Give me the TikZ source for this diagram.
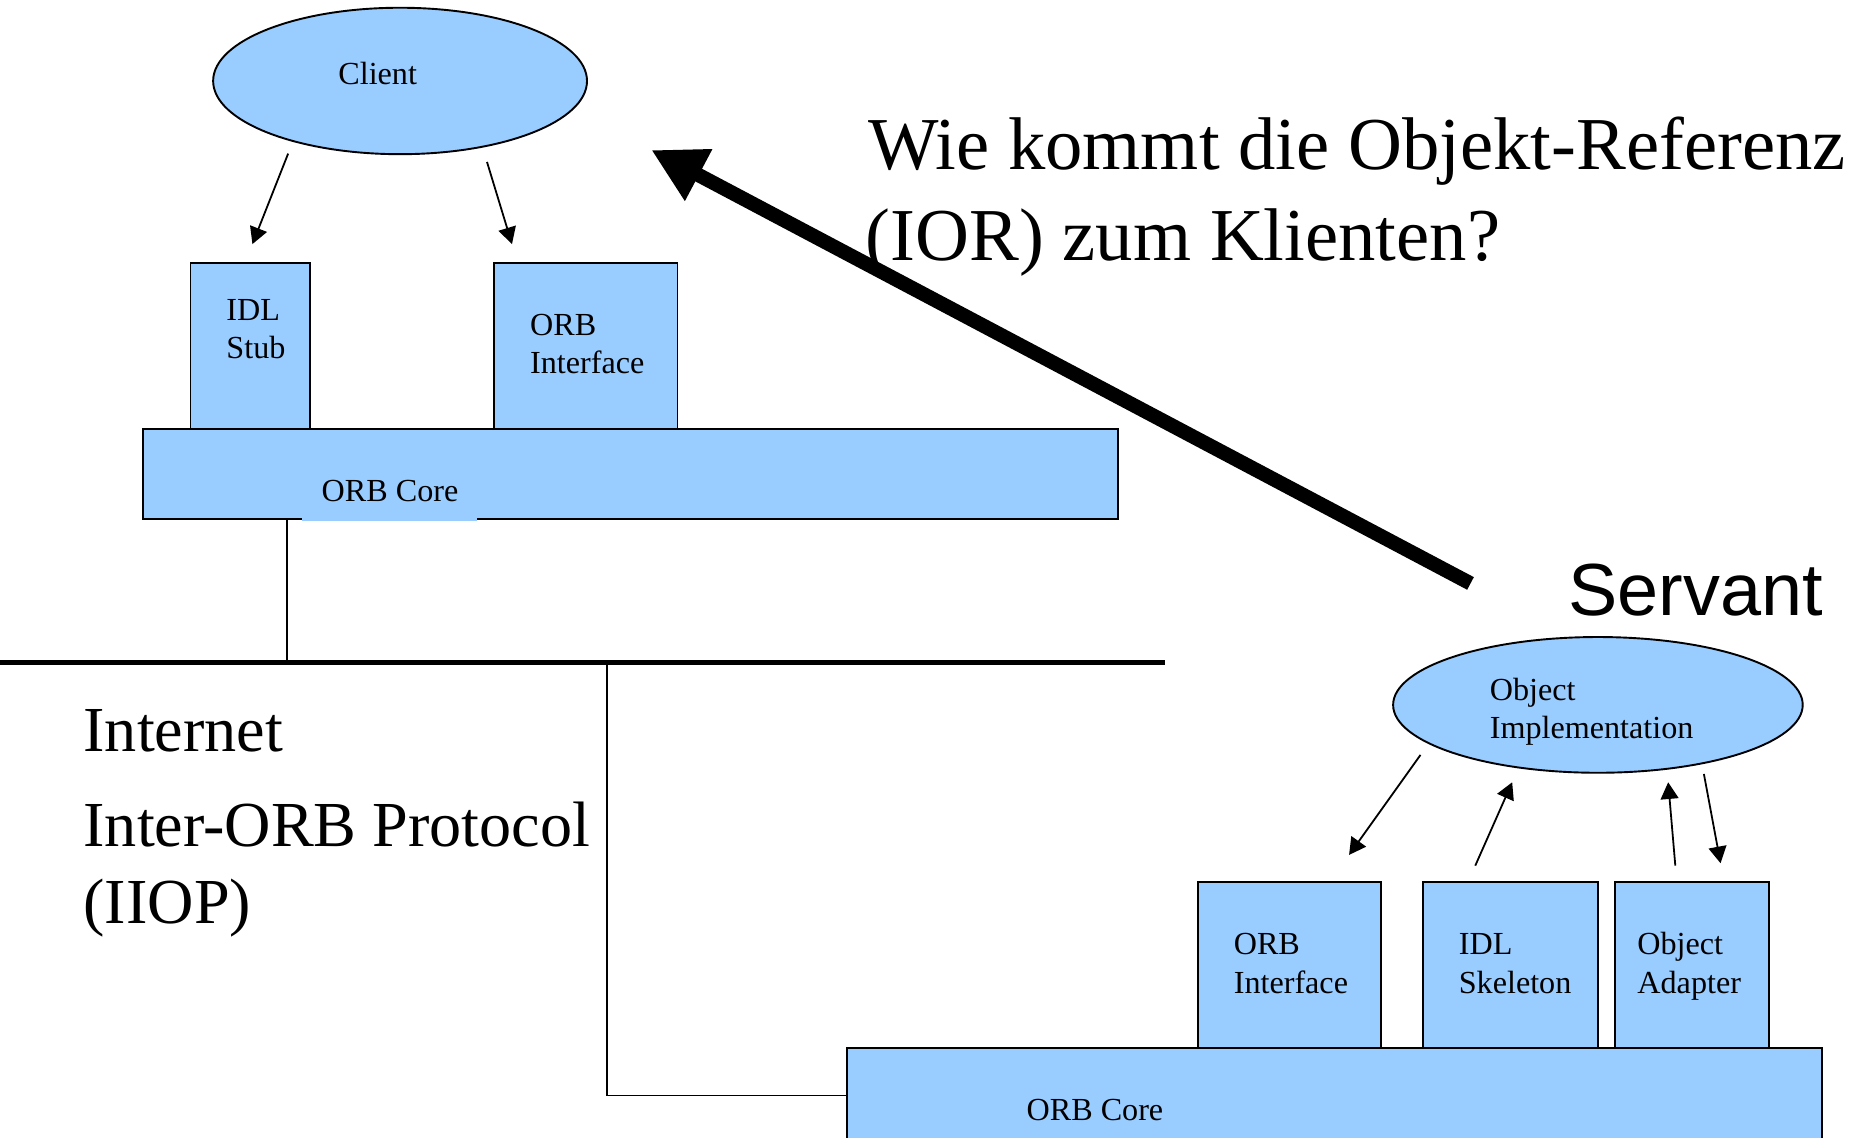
\documentclass[tikz,border=0pt]{standalone}
\usepackage{fontspec}
\setmainfont{Liberation Serif}
\newfontfamily\servfont{Liberation Sans}
\usetikzlibrary{arrows.meta,shapes.geometric}
\definecolor{boxblue}{HTML}{99CCFF}
\begin{document}
\begin{tikzpicture}[x=1pt,y=-1pt,
  box/.style={draw=black, fill=boxblue, line width=1.6pt},
  oval/.style={ellipse, draw=black, fill=boxblue, line width=1.6pt, inner sep=0pt},
  lbl/.style={anchor=base west, inner sep=0pt, font=\fontsize{27}{32}\selectfont, align=left},
  big/.style={anchor=base west, inner sep=0pt, font=\fontsize{62.7}{74}\selectfont},
  net/.style={anchor=base west, inner sep=0pt, font=\fontsize{53.9}{64}\selectfont},
  conn/.style={line width=1.5pt, -{Triangle[length=14pt,width=15pt]}},
  wire/.style={line width=1.5pt},
  bigarrow/.style={line width=12pt, -{Triangle[length=45pt,width=46pt]}},
]
\useasboundingbox (0,0) rectangle (1568,955);

% ---------- client side ----------
\node[oval, minimum width=314pt, minimum height=123pt] (client) at (336,68) {};
\node[lbl] (clientT) at (284,71) {Client};

\path[box] (160,221) rectangle (260,360);
\node[lbl] (stubT) at (190,301) {IDL\\Stub};
\path[box] (415,221) rectangle (569,360);
\node[lbl] (orbiT) at (445,314) {ORB\\Interface};
\path[box] (120,360) rectangle (939,436);
\fill[boxblue] (254,398) rectangle (401,437.6);
\node[lbl] (coreT) at (270,421) {ORB Core};

\coordinate (c1s) at (242,129);
\coordinate (c1e) at (212,205);
\coordinate (c2s) at (409,136);
\coordinate (c2e) at (430,205);
\draw[conn] (c1s) -- (c1e);
\draw[conn] (c2s) -- (c2e);

% ---------- network ----------
\coordinate (ccore) at (241,436);
\coordinate (netL) at (0,556.5);
\coordinate (netR) at (978,556.5);
\coordinate (netA) at (241,556.5);
\coordinate (netB) at (510,556.5);
\coordinate (netC) at (510,920);
\coordinate (score) at (711,920);
\draw[wire] (ccore) -- (netA);
\draw[line width=4pt] (netL) -- (netR);
\draw[wire] (netB) -- (netC) -- (score);

\node[net] (inet1) at (70,631) {Internet};
\node[net] (inet2) at (70,711) {Inter-ORB Protocol};
\node[net] (inet3) at (70,776) {(IIOP)};

% ---------- question ----------
\node[big] (q1) at (729,142) {Wie kommt die Objekt-Referenz};
\node[big] (q2) at (727,219) {(IOR) zum Klienten?};

\coordinate (bigtail) at (1235,490);
\coordinate (bigtip) at (547,126);
\draw[bigarrow] (bigtail) -- (bigtip);

% ---------- servant side ----------
\node[anchor=base west, inner sep=0pt, font=\servfont\fontsize{62}{74}\selectfont] (servant) at (1317,517) {Servant};

\node[oval, minimum width=344pt, minimum height=114pt] (impl) at (1342,592) {};
\node[lbl] (implT) at (1251,620) {Object\\Implementation};

\path[box] (1006,741) rectangle (1160,880);
\node[lbl] (sorbT) at (1036,834) {ORB\\Interface};
\path[box] (1195,741) rectangle (1342,880);
\node[lbl] (skelT) at (1225,834) {IDL\\Skeleton};
\path[box] (1356,741) rectangle (1486,880);
\node[lbl] (adapT) at (1375,834) {Object\\Adapter};
\path[box] (711,880) rectangle (1530,975);
\node[lbl] (scoreT) at (862,941) {ORB Core};

\coordinate (s1s) at (1193,634);
\coordinate (s1e) at (1133,718);
\coordinate (s2s) at (1239,727);
\coordinate (s2e) at (1270,657);
\coordinate (s3s) at (1407,727);
\coordinate (s3e) at (1401,657);
\coordinate (s4s) at (1431,650);
\coordinate (s4e) at (1445,725);
\draw[conn] (s1s) -- (s1e);
\draw[conn] (s2s) -- (s2e);
\draw[conn] (s3s) -- (s3e);
\draw[conn] (s4s) -- (s4e);
\end{tikzpicture}
\end{document}
